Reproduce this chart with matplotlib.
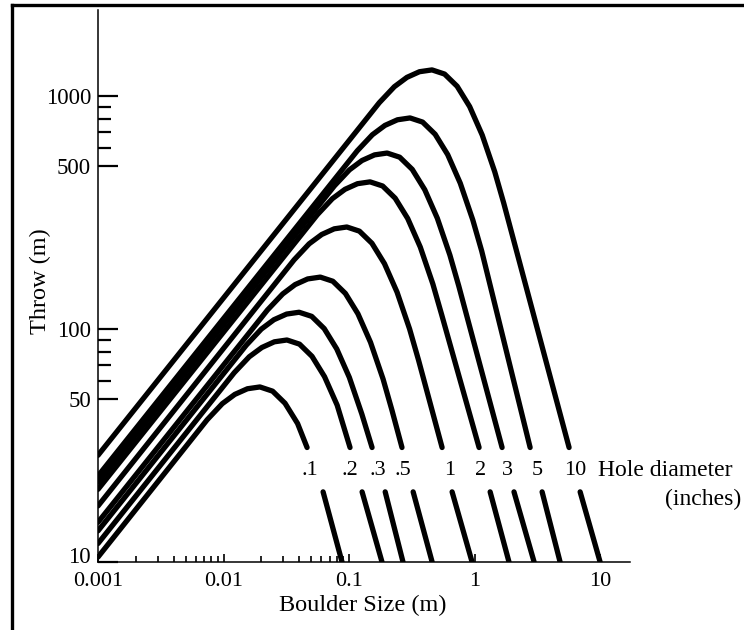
import matplotlib.pyplot as plt
from matplotlib.ticker import FixedLocator, FixedFormatter, NullFormatter
from matplotlib.lines import Line2D
from matplotlib.transforms import ScaledTranslation

plt.rcParams['font.family'] = ['Liberation Serif', 'DejaVu Serif']

# hole diameters (inches) and where their labels sit in the gap
diam_labels = [".1", ".2", ".3", ".5", "1", "2", "3", "5", "10"]
label_x = [0.0489, 0.1018, 0.1703, 0.2693, 0.632, 1.106, 1.815, 3.148, 6.32]
label_y = 24.6

# upper part of each curve (boulder size m, throw m)
upper_x = [
    [0.001, 0.00741, 0.00977, 0.0123, 0.0155, 0.0195, 0.0246, 0.0309, 0.0389, 0.0463],
    [0.001, 0.01216, 0.01603, 0.0202, 0.0254, 0.032, 0.0403, 0.0507, 0.0638, 0.0804, 0.1018],
    [0.001, 0.0152, 0.0200, 0.0252, 0.0318, 0.040, 0.0504, 0.0634, 0.0798, 0.1005, 0.1265, 0.1525],
    [0.001, 0.0224, 0.0296, 0.0372, 0.0468, 0.059, 0.0743, 0.0935, 0.1177, 0.1482, 0.1866, 0.2197, 0.264],
    [0.001, 0.0365, 0.0481, 0.0606, 0.0762, 0.096, 0.1209, 0.1522, 0.1915, 0.2412, 0.3036, 0.3575, 0.551],
    [0.001, 0.0559, 0.0736, 0.0928, 0.1167, 0.147, 0.1851, 0.2330, 0.2933, 0.3693, 0.4648, 0.5474, 1.086],
    [0.001, 0.0764, 0.1007, 0.1268, 0.1596, 0.201, 0.2531, 0.3186, 0.4010, 0.5049, 0.6356, 0.7485, 1.656],
    [0.001, 0.1163, 0.1533, 0.1931, 0.2430, 0.306, 0.3853, 0.4850, 0.6105, 0.7687, 0.9676, 1.1395, 2.77],
    [0.001, 0.1740, 0.2295, 0.2890, 0.3637, 0.458, 0.5766, 0.7259, 0.9137, 1.1505, 1.4482, 1.7056, 5.66],
]
upper_y = [
    [10.5, 40.8, 47.8, 52.4, 55.4, 56.4, 54.1, 48.0, 39.3, 31],
    [12.0, 64.9, 76.0, 83.3, 88.1, 89.7, 86.1, 76.3, 62.4, 47.1, 31],
    [13.6, 85.3, 99.9, 109.6, 115.9, 118, 113.3, 100.4, 82.1, 62.0, 43.1, 31],
    [14.8, 120.7, 141.4, 155.1, 164.0, 167, 160.3, 142.1, 116.2, 87.7, 61.0, 44.8, 31],
    [17.4, 198.1, 232.1, 254.5, 269.1, 274, 263.0, 233.2, 190.7, 143.9, 100.0, 73.6, 31],
    [20.5, 309.4, 362.5, 397.6, 420.3, 428, 410.9, 364.2, 297.9, 224.7, 156.2, 114.9, 31],
    [22.0, 411.4, 481.9, 528.6, 558.8, 569, 546.2, 484.2, 396.0, 298.7, 207.7, 152.8, 31],
    [23.4, 582.0, 681.8, 747.8, 790.5, 805, 772.8, 685.1, 560.3, 422.6, 293.8, 216.1, 31],
    [28.7, 935.6, 1096, 1202, 1271, 1294, 1242, 1101, 900.6, 679.4, 472.3, 347.4, 31],
]

# short piece under the labels, down to the axis
lower_x = [
    [0.0621, 0.0879], [0.127, 0.183], [0.194, 0.269], [0.324, 0.459], [0.662, 0.955],
    [1.33, 1.88], [2.06, 2.98], [3.45, 4.80], [6.93, 10.0],
]
lower_y = [20, 10]

x_major = [0.001, 0.01, 0.1, 1, 10]
x_labels = ["0.001", "0.01", "0.1", "1", "10"]
x_minor = [0.002, 0.003, 0.004, 0.005, 0.006, 0.007, 0.008, 0.009,
           0.02, 0.03, 0.04, 0.05, 0.06, 0.07, 0.08, 0.09]
y_major = [10, 50, 100, 500, 1000]
y_labels = ["10", "50", "100", "500", "1000"]
y_minor = [60, 70, 80, 90, 600, 700, 800, 900]

W, H = 744, 630
fig = plt.figure(figsize=(W / 100, H / 100), dpi=100)
ax = fig.add_axes([98 / W, 1 - 562 / H, 532 / W, 552 / H])
ax.set_xscale('log')
ax.set_yscale('log')
ax.set_xlim(0.001, 17.3)
ax.set_ylim(10, 2339)

for xs, ys in zip(upper_x, upper_y):
    ax.plot(xs, ys, color='black', lw=3.8, solid_capstyle='round', solid_joinstyle='round')
for xs in lower_x:
    ax.plot(xs, lower_y, color='black', lw=3.8, solid_capstyle='round')

for lab, lx in zip(diam_labels, label_x):
    ax.text(lx, label_y, lab, ha='center', va='center', fontsize=16)
ax.text(9.7, label_y, "Hole diameter", ha='left', va='center', fontsize=17, clip_on=False)
ax.text(132, 18.6, "(inches)", ha='right', va='center', fontsize=17, clip_on=False)

for s in ['top', 'right']:
    ax.spines[s].set_visible(False)
for s in ['left', 'bottom']:
    ax.spines[s].set_linewidth(1.1)

ax.xaxis.set_major_locator(FixedLocator(x_major))
ax.xaxis.set_major_formatter(FixedFormatter(x_labels))
ax.xaxis.set_minor_locator(FixedLocator(x_minor))
ax.xaxis.set_minor_formatter(NullFormatter())
ax.yaxis.set_major_locator(FixedLocator(y_major))
ax.yaxis.set_major_formatter(FixedFormatter(y_labels))
ax.yaxis.set_minor_locator(FixedLocator(y_minor))
ax.yaxis.set_minor_formatter(NullFormatter())

ax.tick_params(axis='x', which='major', direction='in', length=6, width=1.2, pad=7, labelsize=16)
ax.tick_params(axis='x', which='minor', direction='in', length=4, width=1.2)
ax.tick_params(axis='y', which='major', direction='in', length=14.4, width=1.6, pad=5, labelsize=16.5)
ax.tick_params(axis='y', which='minor', direction='in', length=9.4, width=1.6)

ax.set_xlabel("Boulder Size (m)", fontsize=17.5)
ax.xaxis.set_label_coords(0.498, -0.06)
ax.set_ylabel("Throw (m)", fontsize=17.5)
ax.yaxis.set_label_coords(-0.088, 0.509)

# lift the lowest y label a little so it clears "0.001"
low_lab = ax.yaxis.get_major_ticks()[0].label1
low_lab.set_transform(low_lab.get_transform() + ScaledTranslation(0, 5 / 72, fig.dpi_scale_trans))

# border of the scanned figure
fig.add_artist(Line2D([12 / W, 12 / W], [0, 1 - 5 / H], transform=fig.transFigure,
                      color='black', lw=2.4))
fig.add_artist(Line2D([12 / W, 1], [1 - 5 / H, 1 - 5 / H], transform=fig.transFigure,
                      color='black', lw=2.4))

fig.savefig("out.png", dpi=100)
